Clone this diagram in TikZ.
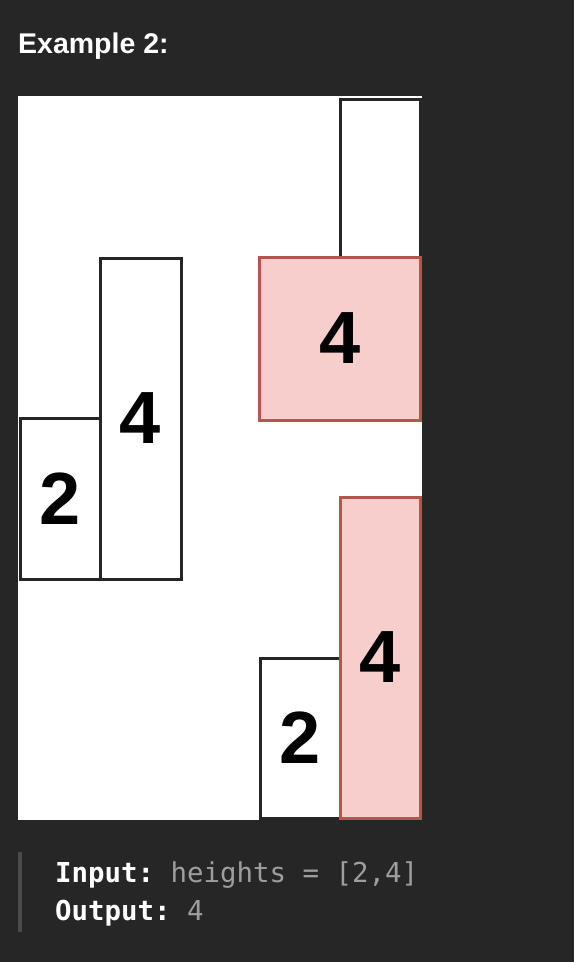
\documentclass[tikz,border=0pt]{standalone}
\usepackage{fontspec}
\setmainfont{Liberation Sans}
\newfontfamily\monofont{DejaVu Sans Mono}
\definecolor{bgdark}{HTML}{262626}
\definecolor{pinkfill}{HTML}{F8CECC}
\definecolor{pinkline}{HTML}{B85450}
\definecolor{barline}{HTML}{262626}
\definecolor{codegray}{HTML}{9E9E9E}
\definecolor{quotebar}{HTML}{4A4A4A}
\tikzset{
  bar/.style={draw=barline, line width=3pt, fill=white, inner sep=0pt, outer sep=0pt,
    font=\fontsize{74}{74}\selectfont\bfseries},
  hibar/.style={bar, draw=pinkline, fill=pinkfill},
}
\begin{document}
\begin{tikzpicture}[x=1pt, y=-1pt]
\useasboundingbox (0,0) rectangle (574,962);
\fill[bgdark] (0,0) rectangle (574,962);
% title
\node[anchor=base west, inner sep=0pt, text=white, font=\fontsize{28.5}{28.5}\selectfont\bfseries] (title) at (18,53) {Example 2:};
% white panel
\node[fill=white, inner sep=0pt, minimum width=404, minimum height=724, anchor=north west] (panel) at (18,96) {};
% left pair
\node[bar, minimum width=80, minimum height=161] (l2) at (60,498.5) {2};
\node[bar, minimum width=81, minimum height=321] (l4) at (140.5,418.5) {4};
% right top
\node[bar, minimum width=80, minimum height=159] (rt) at (380,178.5) {};
\node[hibar, minimum width=161, minimum height=163] (rp) at (340,338.5) {4};
% right bottom
\node[bar, minimum width=80, minimum height=160] (b2) at (300,738) {2};
\node[hibar, minimum width=80, minimum height=321] (b4) at (380,657.5) {4};
% quote bar
\fill[quotebar] (18,852) rectangle (22,932);
% code text
\node[anchor=base west, inner sep=0pt, font=\monofont\fontsize{27.4}{27.4}\selectfont] (inp) at (55,882)
  {\textcolor{white}{\bfseries Input:}\textcolor{codegray}{\ heights = [2,4]}};
\node[anchor=base west, inner sep=0pt, font=\monofont\fontsize{27.4}{27.4}\selectfont] (out) at (55,920)
  {\textcolor{white}{\bfseries Output:}\textcolor{codegray}{\ 4}};
\end{tikzpicture}
\end{document}
